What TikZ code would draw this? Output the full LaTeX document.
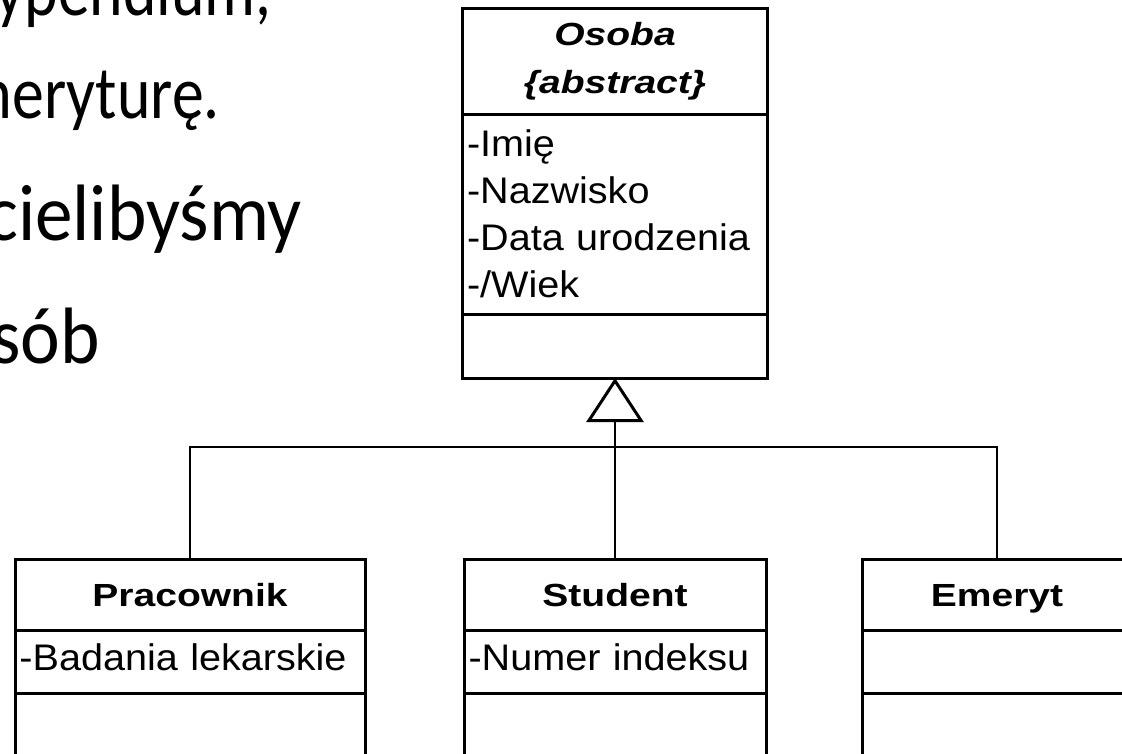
\documentclass[tikz,border=0pt]{standalone}
\usepackage{fontspec}
\usetikzlibrary{positioning,arrows.meta}
\newfontfamily\umlfont[FakeStretch=1.07]{Liberation Sans}
\newfontfamily\umlboldfont[FakeStretch=1.22]{Liberation Sans Bold}
\newfontfamily\umlbifont[FakeStretch=1.22]{Liberation Sans Bold Italic}
\newfontfamily\subfont[FakeStretch=0.85]{Carlito}
\newfontfamily\slidefont[FakeStretch=0.94]{Carlito}

\tikzset{
	box/.style={draw, rectangle, line width=3pt, outer sep=0pt, inner sep=0pt},
	classname/.style={box, minimum width=#1, minimum height=71pt, text height=23pt, text depth=0pt, font=\umlboldfont\fontsize{32}{38}\selectfont},
	attrs/.style={box, text width=#1, inner xsep=4.5pt, minimum height=63pt, text height=26pt, text depth=9pt, align=left, font=\umlfont\fontsize{37}{47}\selectfont},
	ops/.style={box, minimum width=#1, minimum height=80pt},
	conn/.style={line width=2pt},
	subtext/.style={inner sep=0pt, anchor=base east, font=\subfont\fontsize{75}{90}\selectfont},
	slidetext/.style={inner sep=0pt, anchor=base east, font=\slidefont\fontsize{80}{96}\selectfont}
}

\begin{document}
\begin{tikzpicture}[x=1pt,y=-1pt]
	\useasboundingbox (0,0) rectangle (1122,753);
	\clip (0,0) rectangle (1122,753); % the slide is cut off at the edges
	
	% text of the slide, left side
	\node[subtext] (lineA) at (272,15) {ypendium,};
	\node[subtext] (lineB) at (220,118) {meryturę.};
	\node[slidetext] (lineC) at (302,240) {cielibyśmy};
	\node[slidetext] (lineD) at (100,363) {sób};
	
	% abstract class
	\node[box, minimum width=305pt, minimum height=106pt, align=center, font=\umlbifont\fontsize{32}{48}\selectfont] (osobaHead) at (615,61) {Osoba\\\{abstract\}};
	\node[box, text width=296pt, inner xsep=4.5pt, minimum height=200pt, align=left, font=\umlfont\fontsize{37}{47}\selectfont, below=0pt of osobaHead] (osobaAttr) {-Imię\\-Nazwisko\\-Data urodzenia\\-/Wiek};
	\node[ops=305pt, minimum height=64pt, below=0pt of osobaAttr] (osobaOps) {};
	
	% subclasses
	\node[classname=350pt] (pracHead) at (190,594.5) {Pracownik};
	\node[attrs=341pt, below=0pt of pracHead] (pracAttr) {-Badania lekarskie};
	\node[ops=350pt, below=0pt of pracAttr] (pracOps) {};
	
	\node[classname=302pt] (studHead) at (615,594.5) {Student};
	\node[attrs=293pt, below=0pt of studHead] (studAttr) {-Numer indeksu};
	\node[ops=302pt, below=0pt of studAttr] (studOps) {};
	
	\node[classname=270pt] (emerHead) at (997,594.5) {Emeryt};
	\node[attrs=261pt, below=0pt of emerHead] (emerAttr) {};
	\node[ops=270pt, below=0pt of emerAttr] (emerOps) {};
	
	% generalization
	\coordinate (bar) at (615,447);
	\draw[conn] (pracHead.north) |- (bar) -| (emerHead.north);
	\draw[conn, -{Triangle[open, length=44pt, width=57pt, line width=3pt]}] (studHead.north) -- (osobaOps.south);
\end{tikzpicture}
\end{document}
